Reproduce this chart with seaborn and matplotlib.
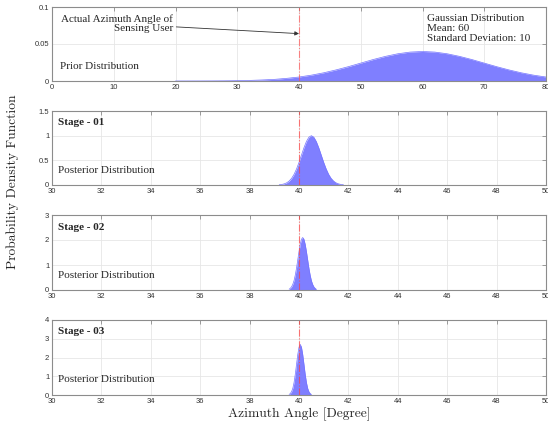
import numpy as np
import pandas as pd
import seaborn as sns
from matplotlib import pyplot

# prior
prior_x = [20, 22, 24, 26, 28, 30, 32, 34, 36, 38, 40, 42, 44, 46, 48, 50, 52, 54, 56, 58, 60,
           62, 64, 66, 68, 70, 72, 74, 76, 78, 80]
prior_y = [0.00001, 0.00003, 0.00006, 0.00012, 0.00024, 0.00044, 0.0008, 0.0014, 0.0022, 0.0036,
           0.0054, 0.0079, 0.0111, 0.0150, 0.0194, 0.0242, 0.0290, 0.0333, 0.0368, 0.0391, 0.0399,
           0.0391, 0.0368, 0.0333, 0.0290, 0.0242, 0.0194, 0.0150, 0.0111, 0.0079, 0.0054]

# posteriors
s1_x = [39.2, 39.3, 39.4, 39.5, 39.6, 39.7, 39.8, 39.9, 40.0, 40.1, 40.2, 40.3, 40.4, 40.5,
        40.6, 40.7, 40.8, 40.9, 41.0, 41.1, 41.2, 41.3, 41.4, 41.5, 41.6, 41.7, 41.8]
s1_y = [0.005, 0.011, 0.023, 0.044, 0.08, 0.135, 0.216, 0.325, 0.458, 0.607, 0.755, 0.882, 0.969, 1.0,
        0.969, 0.882, 0.755, 0.607, 0.458, 0.325, 0.216, 0.135, 0.08, 0.044, 0.023, 0.011, 0.005]

s2_x = [39.6, 39.65, 39.7, 39.75, 39.8, 39.85, 39.9, 39.95, 40.0, 40.05, 40.1, 40.15,
        40.2, 40.25, 40.3, 40.35, 40.4, 40.45, 40.5, 40.55, 40.6, 40.65, 40.7]
s2_y = [0.03, 0.07, 0.13, 0.23, 0.38, 0.60, 0.88, 1.21, 1.54, 1.83, 2.03, 2.10,
        2.03, 1.83, 1.54, 1.21, 0.88, 0.60, 0.38, 0.23, 0.13, 0.07, 0.03]

s3_x = [39.6, 39.65, 39.7, 39.75, 39.8, 39.85, 39.9, 39.95, 40.0, 40.05,
        40.1, 40.15, 40.2, 40.25, 40.3, 40.35, 40.4, 40.45, 40.5]
s3_y = [0.03, 0.08, 0.18, 0.36, 0.67, 1.11, 1.64, 2.16, 2.55, 2.70,
        2.55, 2.16, 1.64, 1.11, 0.67, 0.36, 0.18, 0.08, 0.03]

true_angle = 40
stage_names = ['Stage - 01', 'Stage - 02', 'Stage - 03']
stage_ylims = [1.5, 3, 4]
stage_yticks = [[0, 0.5, 1, 1.5], [0, 1, 2, 3], [0, 1, 2, 3, 4]]

sns.set_theme(style="whitegrid")
pyplot.rcParams['font.family'] = ['Liberation Sans', 'DejaVu Sans']

fill_col = '#7f7fff'
serif = 'Liberation Serif'

fig = pyplot.figure(figsize=(5.48, 4.28), dpi=100)
L, W = 52 / 548, 494 / 548
boxes = [(81, 74), (185, 74), (290, 75), (395, 75)]
axes = [fig.add_axes([L, 1 - b / 428, W, h / 428]) for b, h in boxes]


def style(ax):
    ax.grid(True, color='#e6e6e6', lw=0.6)
    for s in ax.spines.values():
        s.set_color('#8c8c8c')
        s.set_linewidth(0.8)
    ax.tick_params(direction='in', length=3, width=0.6, color='#8c8c8c', labelsize=5.5,
                   labelcolor='#333333', pad=2, top=True, right=True)


def fmt(v):
    return f'{v:g}'


# prior panel
ax = axes[0]
df = pd.DataFrame({'x': prior_x, 'y': prior_y})
ax.fill_between(df['x'], df['y'], color=fill_col, lw=0)
sns.lineplot(data=df, x='x', y='y', ax=ax, color='#7474ff', lw=0.5)
ax.axvline(true_angle, color='#ff5555', ls='-.', lw=0.8, alpha=0.7)
ax.set_xlim(0, 80)
ax.set_ylim(0, 0.1)
ax.set_xticks(range(0, 81, 10))
ax.set_yticks([0, 0.05, 0.1])
ax.set_yticklabels([fmt(v) for v in [0, 0.05, 0.1]])
ax.set_xlabel('')
ax.set_ylabel('')
style(ax)
ax.text(1.3, 0.019, 'Prior Distribution', family=serif, fontsize=8, va='center')
ax.text(60.7, 0.091, 'Gaussian Distribution\nMean: 60\nStandard Deviation: 10', family=serif,
        fontsize=8, va='top', linespacing=1.15)
ax.annotate('Actual Azimuth Angle of\nSensing User', xy=(true_angle, 0.064), xytext=(19.6, 0.0775),
            family=serif, fontsize=8, ha='right', va='center', linespacing=1.1,
            arrowprops=dict(arrowstyle='-|>', color='#333333', lw=0.6, mutation_scale=6,
                            shrinkA=0, shrinkB=0))

# posterior panels
for ax, xs, ys, name, ym, yt in zip(axes[1:], [s1_x, s2_x, s3_x], [s1_y, s2_y, s3_y],
                                     stage_names, stage_ylims, stage_yticks):
    df = pd.DataFrame({'x': xs, 'y': ys})
    ax.fill_between(df['x'], df['y'], color=fill_col, lw=0)
    sns.lineplot(data=df, x='x', y='y', ax=ax, color='#7474ff', lw=0.5)
    ax.axvline(true_angle, color='#ff4040', ls='-.', lw=0.8, alpha=0.7)
    ax.set_xlim(30, 50)
    ax.set_ylim(0, ym)
    ax.set_xticks(range(30, 51, 2))
    ax.set_yticks(yt)
    ax.set_yticklabels([fmt(v) for v in yt])
    ax.set_xlabel('')
    ax.set_ylabel('')
    style(ax)
    ax.text(0.012, 0.84, name, transform=ax.transAxes, family=serif, fontsize=8,
            fontweight='bold', va='center')
    ax.text(0.012, 0.2, 'Posterior Distribution', transform=ax.transAxes, family=serif,
            fontsize=8, va='center')

fig.text(299 / 548, 1 - 414 / 428, 'Azimuth Angle [Degree]', family='cmr10', fontsize=9.7,
         ha='center', va='center')
fig.text(13 / 548, 1 - 182 / 428, 'Probability Density Function', family='cmr10', fontsize=9.7,
         rotation=90, ha='center', va='center')

fig.savefig('out.png', dpi=100)
